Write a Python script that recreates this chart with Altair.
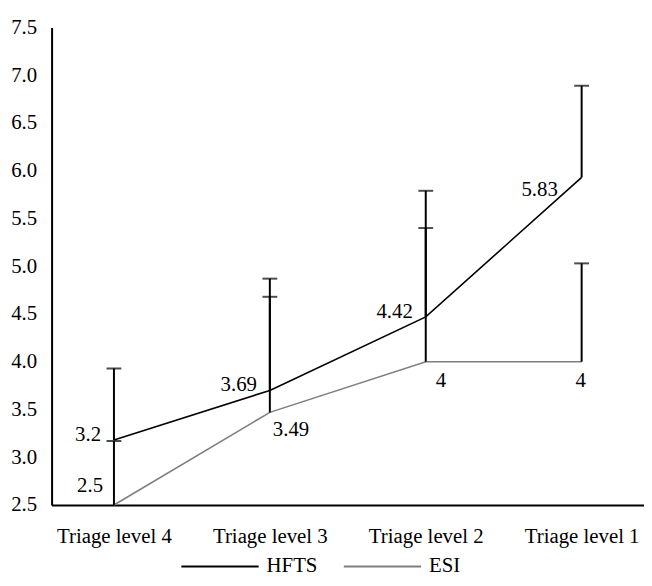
import altair as alt
import pandas as pd

categories = ["Triage level 4", "Triage level 3", "Triage level 2", "Triage level 1"]
hfts = [3.18, 3.70, 4.47, 5.93]
esi = [2.5, 3.47, 4.0, 4.0]
hfts_upper = [3.93, 4.87, 5.79, 6.89]
esi_upper = [3.17, 4.68, 5.40, 5.03]
hfts_labels = ["3.2", "3.69", "4.42", "5.83"]
esi_labels = ["2.5", "3.49", "4", "4"]
series = ["HFTS", "ESI"]

rows = []
for i, c in enumerate(categories):
    rows.append({"cat": c, "series": "HFTS", "val": hfts[i], "upper": hfts_upper[i], "label": hfts_labels[i], "idx": i})
    rows.append({"cat": c, "series": "ESI", "val": esi[i], "upper": esi_upper[i], "label": esi_labels[i], "idx": i})
df = pd.DataFrame(rows)

FONT = "Times New Roman, Liberation Serif, Nimbus Roman, Noto Serif, DejaVu Serif, FreeSerif"
FS = 21
x = alt.X("cat:N", sort=categories, title=None,
          scale=alt.Scale(type="point", padding=0.4),
          axis=alt.Axis(labelAngle=0, ticks=False, labelPadding=21, domainWidth=2, domainColor="black",
                        labelFontSize=FS, labelFont=FONT, labelColor="black"))
y = alt.Y("val:Q", title=None, scale=alt.Scale(domain=[2.5, 7.5], nice=False, zero=False),
          axis=alt.Axis(values=[2.5, 3, 3.5, 4, 4.5, 5, 5.5, 6, 6.5, 7, 7.5], format=".1f", grid=False,
                        ticks=False, labelPadding=15, domainWidth=2, domainColor="black",
                        labelFontSize=FS, labelFont=FONT, labelColor="black"))
color = alt.Color("series:N", sort=series,
                  scale=alt.Scale(domain=series, range=["#000000", "#7f7f7f"]),
                  legend=alt.Legend(title=None, orient="none", direction="horizontal",
                                    legendX=130, legendY=504,
                                    symbolType="stroke", symbolSize=6084, symbolStrokeWidth=2,
                                    labelFontSize=FS, labelFont=FONT, labelColor="black",
                                    columnPadding=22, labelOffset=7))

base = alt.Chart(df)

rules = base.mark_rule(color="black", strokeWidth=2).encode(x=x, y="val:Q", y2="upper:Q")
caps = base.mark_tick(color="black", thickness=2, size=15, orient="horizontal").encode(x=x, y="upper:Q")
lines = base.mark_line(strokeWidth=1.6).encode(x=x, y=y, color=color, order="idx:Q")

def txt(cond, **kw):
    return base.transform_filter(cond).mark_text(fontSize=FS, font=FONT, color="black", **kw).encode(
        x=x, y="val:Q", text="label:N")

hl = txt("datum.series == 'HFTS' && datum.idx < 3", align="right", baseline="middle", dx=-13, dy=-5)
hl1 = txt("datum.series == 'HFTS' && datum.idx == 3", align="right", baseline="middle", dx=-24, dy=13)
el0 = txt("datum.series == 'ESI' && datum.idx == 0", align="right", baseline="alphabetic", dx=-11, dy=-13)
el1 = txt("datum.series == 'ESI' && datum.idx == 1", align="left", baseline="alphabetic", dx=3, dy=24)
el2 = txt("datum.series == 'ESI' && datum.idx == 2", align="left", baseline="alphabetic", dx=10, dy=25)
el3 = txt("datum.series == 'ESI' && datum.idx == 3", align="center", baseline="alphabetic", dx=-1, dy=25)

chart = alt.layer(lines, rules, caps, hl, hl1, el0, el1, el2, el3).properties(
    width=598, height=482,
    autosize=alt.AutoSizeParams(type="none"),
    padding={"left": 44, "top": 17, "right": 0, "bottom": 68},
).configure(font=FONT).configure_view(stroke=None)

chart.save("out.html", embed_options={"renderer": "svg", "actions": False})
